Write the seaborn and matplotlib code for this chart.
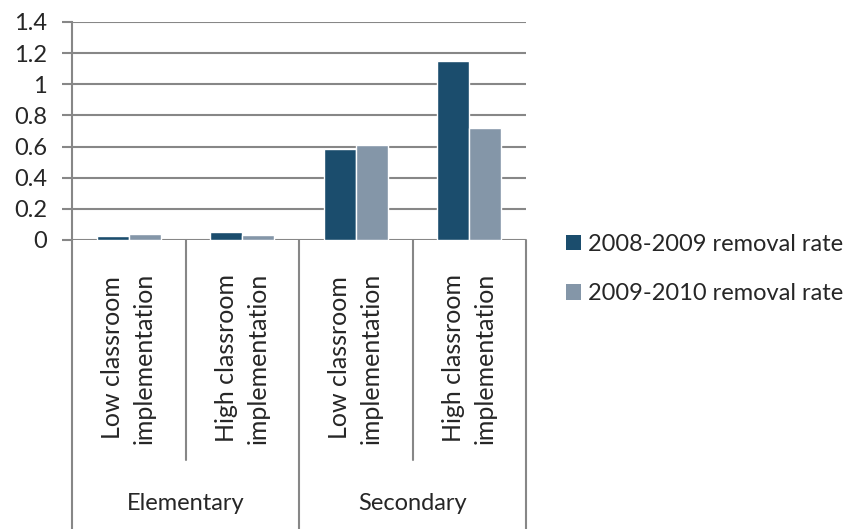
import matplotlib
matplotlib.use("Agg")
import matplotlib.pyplot as plt
import seaborn as sns
import pandas as pd
from matplotlib.patches import Patch

levels = ["Elementary", "Secondary"]
subcats = ["Low classroom\nimplementation", "High classroom\nimplementation"]
series = ["2008-2009 removal rate", "2009-2010 removal rate"]
rate_0809 = [0.028, 0.049, 0.584, 1.15]
rate_0910 = [0.039, 0.032, 0.613, 0.722]
yticks = [0, 0.2, 0.4, 0.6, 0.8, 1.0, 1.2, 1.4]
ytick_labels = ["0", "0.2", "0.4", "0.6", "0.8", "1", "1.2", "1.4"]
colors = ["#1b4d6d", "#8496a8"]

cats = [f"{l}|{s}" for l in levels for s in subcats]
df = pd.DataFrame({
    "cat": cats * 2,
    "series": [series[0]] * 4 + [series[1]] * 4,
    "value": rate_0809 + rate_0910,
})

sns.set_style("white")
plt.rcParams["font.family"] = ["Lato", "DejaVu Sans"]
FS = 17
GRID = "#878787"

W, H = 854, 529
fig = plt.figure(figsize=(W / 100, H / 100), dpi=100)
x0, x1, y0, y1 = 72, 526, 240, 22
ax = fig.add_axes([x0 / W, 1 - y0 / H, (x1 - x0) / W, (y0 - y1) / H])
sns.barplot(data=df, x="cat", y="value", hue="series", order=cats,
            hue_order=series, palette=colors, width=0.567, saturation=1,
            ax=ax, legend=False, zorder=3)
ax.set_xlim(-0.5, len(cats) - 0.5)
ax.set_ylim(0, 1.4)
ax.set_yticks(yticks)
ax.set_yticklabels(ytick_labels, fontsize=FS)
ax.set_xticks([])
ax.set_xlabel("")
ax.set_ylabel("")
ax.yaxis.grid(True, color=GRID, linewidth=1.5, zorder=0)
ax.set_axisbelow(True)
ax.tick_params(axis="y", length=7, width=1.5, color=GRID, direction="out", pad=11, left=True)
for s in ["top", "right", "bottom"]:
    ax.spines[s].set_visible(False)
ax.spines["left"].set_color(GRID)
ax.spines["left"].set_linewidth(1.5)

# lower multi-level category axis (units: pixels below the x axis)
LH = H - y0
lax = fig.add_axes([x0 / W, 0, (x1 - x0) / W, LH / H], zorder=-1)
lax.set_xlim(-0.5, len(cats) - 0.5)
lax.set_ylim(LH, 0)
lax.axis("off")
n_sub = len(subcats)
for i in range(len(cats) + 1):
    xb = i - 0.5
    if i % n_sub == 0:
        lax.plot([xb, xb], [0, LH], color=GRID, lw=1.5, clip_on=False)
    else:
        lax.plot([xb, xb], [0, 220], color=GRID, lw=1.5, clip_on=False)
for i, c in enumerate(cats):
    lax.text(i, 118, c.split("|")[1], rotation=90, ha="center", va="center",
             multialignment="center", fontsize=FS + 1, linespacing=1.45)
for j, l in enumerate(levels):
    lax.text(j * n_sub + (n_sub - 1) / 2, 263, l, ha="center", va="center", fontsize=FS)

handles = [Patch(facecolor=c, edgecolor="none") for c in colors]
fig.legend(handles, series, loc="center left", bbox_to_anchor=(557 / W, 1 - 269 / H),
           frameon=False, fontsize=FS, handlelength=0.62, handleheight=0.62,
           handletextpad=0.3, labelspacing=1.2, borderaxespad=0)

fig.savefig("out.png", dpi=100)
